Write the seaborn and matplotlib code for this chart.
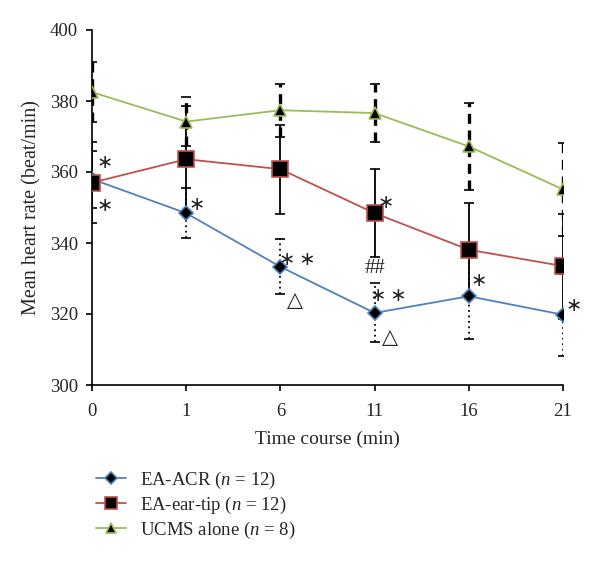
import numpy as np
import pandas as pd
import seaborn as sns
import matplotlib.pyplot as plt
from matplotlib.lines import Line2D

# data
times = ["0", "1", "6", "11", "16", "21"]

acr_mean = [358.0, 348.4, 333.3, 320.3, 325.0, 319.8]
acr_sd = [8.0, 7.0, 7.7, 8.3, 12.0, 11.6]
ear_mean = [357.0, 363.6, 360.8, 348.4, 338.1, 333.5]
ear_sd = [11.5, 15.0, 12.5, 12.4, 13.2, 14.8]
ucms_mean = [382.5, 374.2, 377.4, 376.6, 367.2, 355.1]
ucms_sd = [8.5, 7.0, 7.5, 8.2, 12.3, 13.0]

groups = ["EA-ACR ($n$ = 12)", "EA-ear-tip ($n$ = 12)", "UCMS alone ($n$ = 8)"]

# significance marks: position (category units), value, text
mark_pos = [0.13, 0.13, 1.11, 2.18, 2.15, 3.12, 3.0, 3.15, 3.16, 4.11, 5.11]
mark_val = [362.8, 350.5, 350.8, 335.3, 323.6, 351.5, 332.7, 325.1, 313.0, 329.3, 322.5]
mark_txt = ["∗", "∗", "∗", "∗\u2009∗", "△", "∗", "##", "∗\u2009∗", "△", "∗", "∗"]

sns.set_style("ticks")
plt.rcParams["font.family"] = ["Liberation Serif", "DejaVu Serif"]
plt.rcParams["mathtext.fontset"] = "custom"
plt.rcParams["mathtext.it"] = "Liberation Serif:italic"
plt.rcParams["mathtext.rm"] = "Liberation Serif"

x = np.arange(len(times))
df = pd.DataFrame({
    "t": np.tile(x, 3),
    "rate": acr_mean + ear_mean + ucms_mean,
    "sd": acr_sd + ear_sd + ucms_sd,
    "group": np.repeat(groups, len(times)),
})

colors = ["#4F81BD", "#C0504D", "#9BBB59"]
markers = ["D", "s", "^"]
msizes = [7, 11, 8.5]
bar_styles = [(0, (1, 2)), "-", (0, (3, 2))]
bar_widths = [1.3, 1.3, 2.4]

fig = plt.figure(figsize=(6, 5.7), dpi=100)
ax = fig.add_axes([92 / 600, 1 - 385 / 570, (563 - 92) / 600, (385 - 30) / 570])

# error bars
for i, g in enumerate(groups):
    d = df[df["group"] == g]
    eb = ax.errorbar(d["t"], d["rate"], yerr=d["sd"], fmt="none", ecolor="black",
                     elinewidth=bar_widths[i], capsize=3.5, capthick=1.2, zorder=2)
    eb[2][0].set_linestyle(bar_styles[i])

# mean lines
handles = []
for i, g in enumerate(groups):
    d = df[df["group"] == g]
    sns.lineplot(data=d, x="t", y="rate", ax=ax, color=colors[i], marker=markers[i],
                 markersize=msizes[i], markerfacecolor="black", markeredgecolor=colors[i],
                 markeredgewidth=1.2, linewidth=1.3, zorder=3, legend=False)
    handles.append(Line2D([], [], color=colors[i], marker=markers[i], markersize=msizes[i] * 0.85,
                          markerfacecolor="black", markeredgecolor=colors[i],
                          markeredgewidth=1.2, linewidth=1.3))

for px, v, s in zip(mark_pos, mark_val, mark_txt):
    if "∗" in s:
        ax.text(px, v, s, ha="center", va="center", fontsize=14, color="#222222",
                family=["DejaVu Sans"], zorder=4)
    else:
        ax.text(px, v, s, ha="center", va="center", fontsize=15, zorder=4)

ax.set_xlim(0, 5)
ax.set_ylim(300, 400)
ax.set_xticks(x)
ax.set_xticklabels(times)
ax.set_yticks(np.arange(300, 401, 20))
ax.tick_params(labelsize=13.5, length=4, width=1.2, color="black", pad=6)
ax.tick_params(axis="x", pad=9)
for s in ["top", "right"]:
    ax.spines[s].set_visible(False)
for s in ["left", "bottom"]:
    ax.spines[s].set_linewidth(1.2)
    ax.spines[s].set_color("black")

ax.set_xlabel("Time course (min)", fontsize=14, labelpad=8)
ax.set_ylabel("Mean heart rate (beat/min)", fontsize=14.5, labelpad=6)

fig.legend(handles, groups, loc="upper left", bbox_to_anchor=(0.132, 1 - 453 / 570),
           frameon=False, fontsize=13.5, handlelength=1.6, labelspacing=0.2,
           handletextpad=0.75)

fig.savefig("out.png", dpi=100)
